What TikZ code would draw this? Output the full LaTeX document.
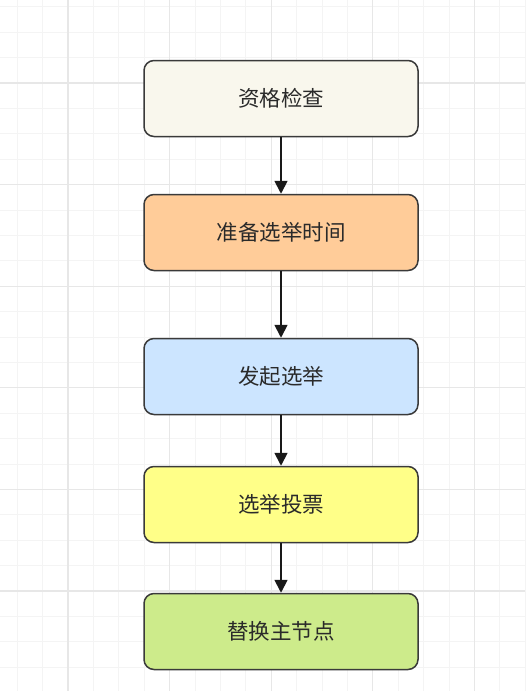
\documentclass[tikz,border=0pt]{standalone}
\usepackage{fontspec}
\newfontfamily\cjk{Noto Sans CJK SC}
\usetikzlibrary{arrows.meta}
\definecolor{minorgrid}{HTML}{F4F4F4}
\definecolor{majorgrid}{HTML}{E7E7E7}
\definecolor{boxline}{HTML}{3A3A3A}
\definecolor{txt}{HTML}{2A2A2A}
\definecolor{fA}{HTML}{F9F7ED}
\definecolor{fB}{HTML}{FFCC99}
\definecolor{fC}{HTML}{CCE5FF}
\definecolor{fD}{HTML}{FFFF88}
\definecolor{fE}{HTML}{CDEB8B}
\tikzset{
  stepbox/.style={draw=boxline, line width=1.5pt, rounded corners=10pt,
    minimum width=274pt, minimum height=76pt, inner sep=0pt,
    font=\cjk\fontsize{21.5}{25}\selectfont, text=txt},
  flow/.style={draw=black!90, line width=1.8pt, -{Triangle[length=13pt,width=13pt]}},
}
\begin{document}
\begin{tikzpicture}[x=1pt,y=-1pt]
\useasboundingbox (0,0) rectangle (525,691);
\fill[white] (0,0) rectangle (525,691);
% minor grid
\foreach \i in {0,...,21} {
  \draw[minorgrid, line width=1pt] ({17.2+25.4*\i},0) -- ({17.2+25.4*\i},691);
}
\foreach \i in {0,...,27} {
  \draw[minorgrid, line width=1pt] (0,{6.8+25.4*\i}) -- (525,{6.8+25.4*\i});
}
% major grid
\foreach \i in {0,...,4} {
  \draw[majorgrid, line width=1.2pt] ({68+101.6*\i},0) -- ({68+101.6*\i},691);
}
\foreach \i in {0,...,6} {
  \draw[majorgrid, line width=1.2pt] (0,{83+101.6*\i}) -- (525,{83+101.6*\i});
}
\node[stepbox, fill=fA] (a) at (281,98.5) {资格检查};
\node[stepbox, fill=fB] (b) at (281,232.5) {准备选举时间};
\node[stepbox, fill=fC] (c) at (281,376.5) {发起选举};
\node[stepbox, fill=fD] (d) at (281,504.5) {选举投票};
\node[stepbox, fill=fE] (e) at (281,631.5) {替换主节点};
\draw[flow] (a) -- (b);
\draw[flow] (b) -- (c);
\draw[flow] (c) -- (d);
\draw[flow] (d) -- (e);
\end{tikzpicture}
\end{document}
